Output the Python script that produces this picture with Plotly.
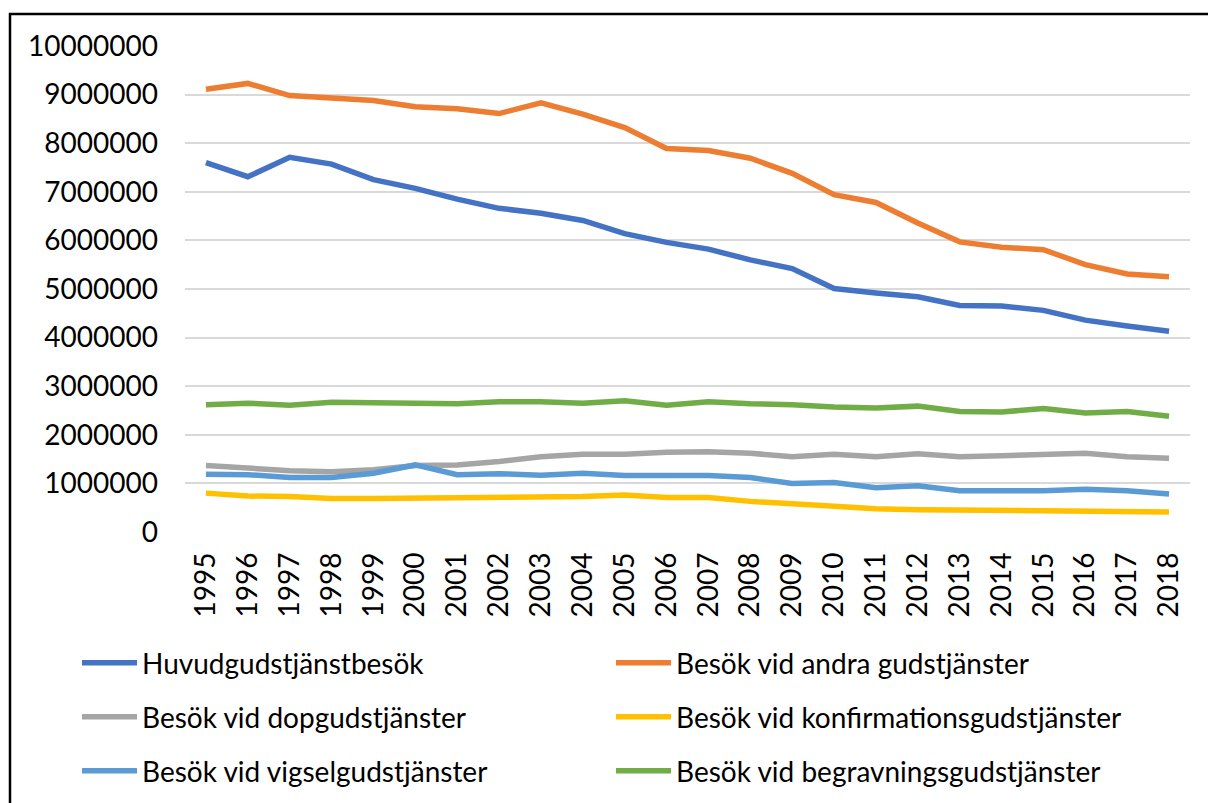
import plotly.graph_objects as go

years = [str(y) for y in range(1995, 2019)]

huvud = [7600000, 7310000, 7710000, 7570000, 7250000, 7070000, 6850000, 6660000,
         6560000, 6410000, 6140000, 5960000, 5820000, 5600000, 5420000, 5010000,
         4920000, 4840000, 4660000, 4650000, 4560000, 4360000, 4240000, 4130000]
andra = [9110000, 9230000, 8980000, 8940000, 8880000, 8750000, 8710000, 8610000,
         8830000, 8600000, 8320000, 7890000, 7850000, 7690000, 7380000, 6940000,
         6780000, 6360000, 5970000, 5860000, 5810000, 5500000, 5310000, 5250000]
dop = [1370000, 1310000, 1260000, 1240000, 1280000, 1370000, 1380000, 1450000,
       1550000, 1600000, 1600000, 1640000, 1650000, 1620000, 1550000, 1600000,
       1550000, 1610000, 1550000, 1570000, 1600000, 1620000, 1550000, 1520000]
konf = [800000, 740000, 730000, 690000, 690000, 700000, 700000, 700000,
        720000, 730000, 760000, 710000, 710000, 630000, 580000, 520000,
        480000, 460000, 450000, 440000, 440000, 430000, 410000, 410000]
vigsel = [1190000, 1180000, 1120000, 1120000, 1210000, 1380000, 1180000, 1200000,
          1170000, 1210000, 1160000, 1160000, 1160000, 1120000, 1000000, 1020000,
          910000, 950000, 850000, 850000, 850000, 880000, 850000, 780000]
begrav = [2620000, 2650000, 2610000, 2670000, 2660000, 2650000, 2640000, 2680000,
          2680000, 2650000, 2700000, 2610000, 2680000, 2640000, 2620000, 2570000,
          2550000, 2590000, 2480000, 2470000, 2540000, 2450000, 2480000, 2380000]

names = ["Huvudgudstjänstbesök", "Besök vid andra gudstjänster",
         "Besök vid dopgudstjänster", "Besök vid konfirmationsgudstjänster",
         "Besök vid vigselgudstjänster", "Besök vid begravningsgudstjänster"]
series = [huvud, andra, dop, konf, vigsel, begrav]
colors = ["#4472C4", "#ED7D31", "#A5A5A5", "#FFC000", "#5B9BD5", "#70AD47"]
legend_ids = ["legend", "legend", "legend2", "legend2", "legend3", "legend3"]

FONT = "Lato"
FS = 28
W, H = 1208, 803
L, R, T, B = 185, 18, 46, 271
PW, PH = W - L - R, H - T - B

fig = go.Figure()
for name, vals, col, lg in zip(names, series, colors, legend_ids):
    fig.add_trace(go.Scatter(x=years, y=vals, name=name, mode="lines",
                             line=dict(color=col, width=5.5), legend=lg))

def leg(ycenter):
    return dict(orientation="h", xref="paper", yref="paper",
                x=(77 - L) / PW, y=(H - B - ycenter) / PH,
                xanchor="left", yanchor="middle",
                entrywidth=464, entrywidthmode="pixels", itemwidth=55,
                font=dict(size=FS, family=FONT, color="#000000"),
                bgcolor="rgba(0,0,0,0)", traceorder="normal")

fig.update_layout(
    width=W, height=H,
    paper_bgcolor="white", plot_bgcolor="white",
    margin=dict(l=L, r=R, t=T, b=B, autoexpand=False),
    font=dict(family=FONT, size=FS, color="#000000"),
    showlegend=True,
    legend=leg(663), legend2=leg(717), legend3=leg(771),
    xaxis=dict(type="category", range=[-0.5, 23.5], tickangle=-90,
               showgrid=False, showline=False, zeroline=False, ticks="",
               ticklabelstandoff=14,
               tickfont=dict(size=FS, family=FONT, color="#000000")),
    yaxis=dict(range=[0, 10000000], dtick=1000000, tickformat="d",
               showgrid=True, gridcolor="#D9D9D9", gridwidth=1.5,
               zeroline=False, showline=False, ticks="",
               ticklabelstandoff=26,
               tickfont=dict(size=FS, family=FONT, color="#000000")),
    shapes=[dict(type="rect", xref="paper", yref="paper",
                 x0=(10 - L) / PW, x1=(1230 - L) / PW,
                 y0=-0.7, y1=1 + (T - 14) / PH,
                 line=dict(color="black", width=2.5), layer="above")],
)

fig.write_html("out.html", config={"displayModeBar": False},
               post_script="document.body.style.margin='0';")
